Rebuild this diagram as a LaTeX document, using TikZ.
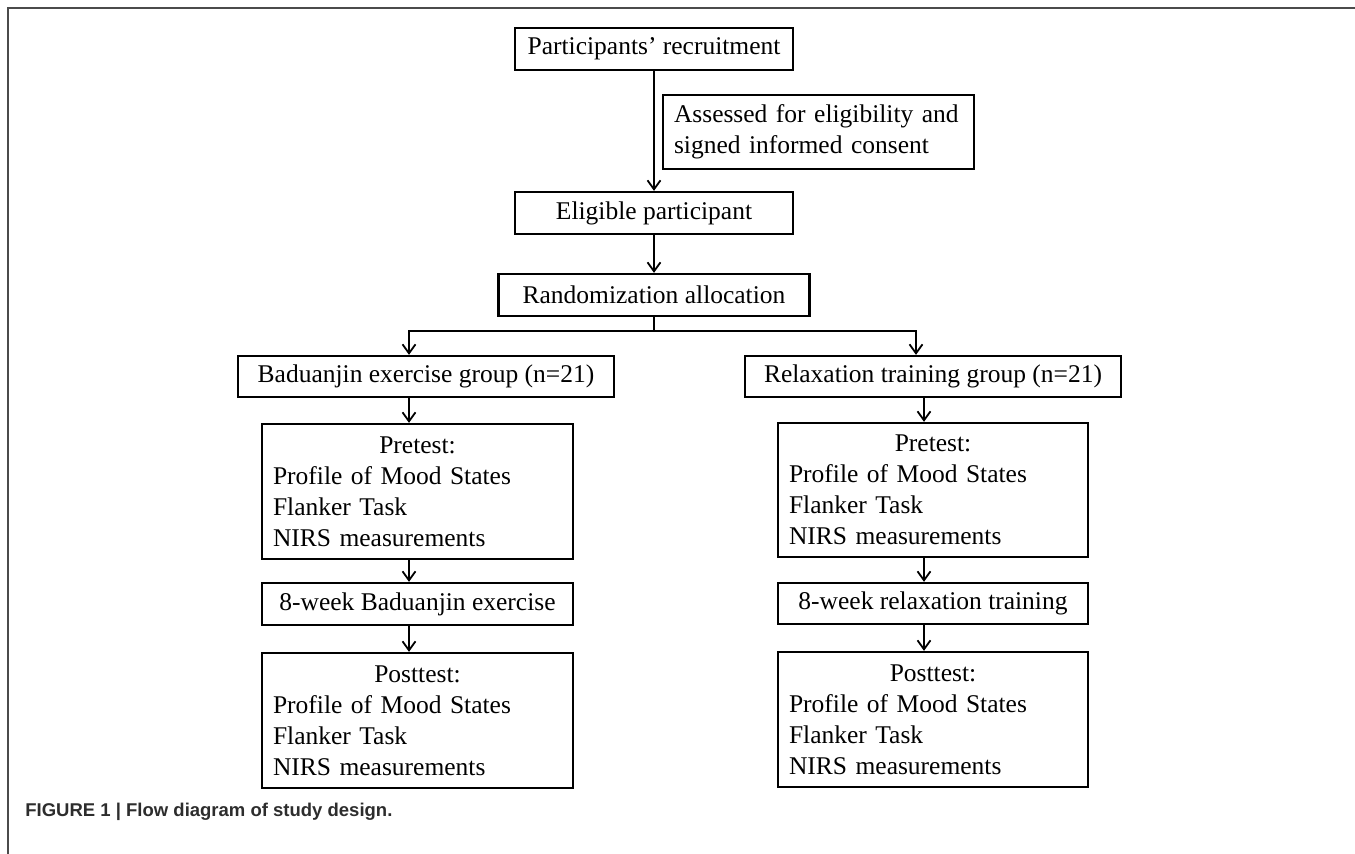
\documentclass[tikz,border=0pt]{standalone}
\usepackage{fontspec}
\setmainfont{Liberation Serif}
\newfontfamily\capfont{Liberation Sans}
\usetikzlibrary{arrows.meta}
\definecolor{framegray}{RGB}{75,75,75}
\definecolor{capgray}{RGB}{45,45,45}
\tikzset{
  box/.style={draw=black, line width=1.15pt, inner sep=0pt, align=center,
    font=\fontsize{12.75}{15.5}\selectfont},
  listbox/.style={box, inner xsep=5.5pt, text width=#1, align=left},
  arr/.style={line width=0.9pt, -{Straight Barb[length=4.5pt,width=6.5pt]}},
  plain/.style={line width=0.9pt},
  frameline/.style={draw=framegray, line width=1.1pt},
}
\begin{document}
\begin{tikzpicture}[x=0.5pt,y=-0.5pt]
\useasboundingbox (0,0) rectangle (1355,854);
\draw[frameline] (8,854) -- (8,8) -- (1355,8);

\coordinate (colL) at (409,0);
\coordinate (colR) at (924,0);
\coordinate (splitR) at (916,0);

\node[box, minimum width=139pt, minimum height=21pt] (rec) at (654,49) {Participants' recruitment};
\node[listbox=144.5pt, minimum height=37pt] (assess) at (818.5,132) {Assessed for eligibility and\\signed informed consent};
\node[box, minimum width=139pt, minimum height=21pt] (elig) at (654,213) {Eligible participant};
\node[box, minimum width=155.5pt, minimum height=21pt] (rand) at (654,295) {Randomization allocation};
\node[box, minimum width=188pt, minimum height=20.5pt] (bad) at (426,376.5) {Baduanjin exercise group (n=21)};
\node[box, minimum width=188pt, minimum height=20.5pt] (rel) at (933,376.5) {Relaxation training group (n=21)};

\node[listbox=144.5pt, minimum height=67.5pt] (preL) at (417.5,491.5)
  {\makebox[144.5pt]{Pretest:}\\Profile of Mood States\\Flanker Task\\NIRS measurements};
\node[listbox=144pt, minimum height=67pt] (preR) at (933,490)
  {\makebox[144pt]{Pretest:}\\Profile of Mood States\\Flanker Task\\NIRS measurements};

\node[box, minimum width=155.5pt, minimum height=21pt] (wkL) at (417.5,604) {8-week Baduanjin exercise};
\node[box, minimum width=155pt, minimum height=20.5pt] (wkR) at (933,603.5) {8-week relaxation training};

\node[listbox=144.5pt, minimum height=67.5pt] (postL) at (417.5,720.5)
  {\makebox[144.5pt]{Posttest:}\\Profile of Mood States\\Flanker Task\\NIRS measurements};
\node[listbox=144pt, minimum height=67.5pt] (postR) at (933,719.5)
  {\makebox[144pt]{Posttest:}\\Profile of Mood States\\Flanker Task\\NIRS measurements};

\coordinate (split) at (rand.south |- 0,331);

\draw[arr] (rec.south) -- (elig.north);
\draw[arr] (elig.south) -- (rand.north);
\draw[plain] (rand.south) -- (split);
\draw[arr] (split) -| (bad.north -| colL);
\draw[arr] (split) -| (rel.north -| splitR);

\draw[arr] (bad.south -| colL) -- (preL.north -| colL);
\draw[arr] (preL.south -| colL) -- (wkL.north -| colL);
\draw[arr] (wkL.south -| colL) -- (postL.north -| colL);

\draw[arr] (rel.south -| colR) -- (preR.north -| colR);
\draw[arr] (preR.south -| colR) -- (wkR.north -| colR);
\draw[arr] (wkR.south -| colR) -- (postR.north -| colR);

\node[anchor=base west, inner sep=0pt, text=capgray, font=\capfont\bfseries\fontsize{9.25}{11}\selectfont] (cap) at (25,817) {FIGURE 1 | Flow diagram of study design.};
\end{tikzpicture}
\end{document}
